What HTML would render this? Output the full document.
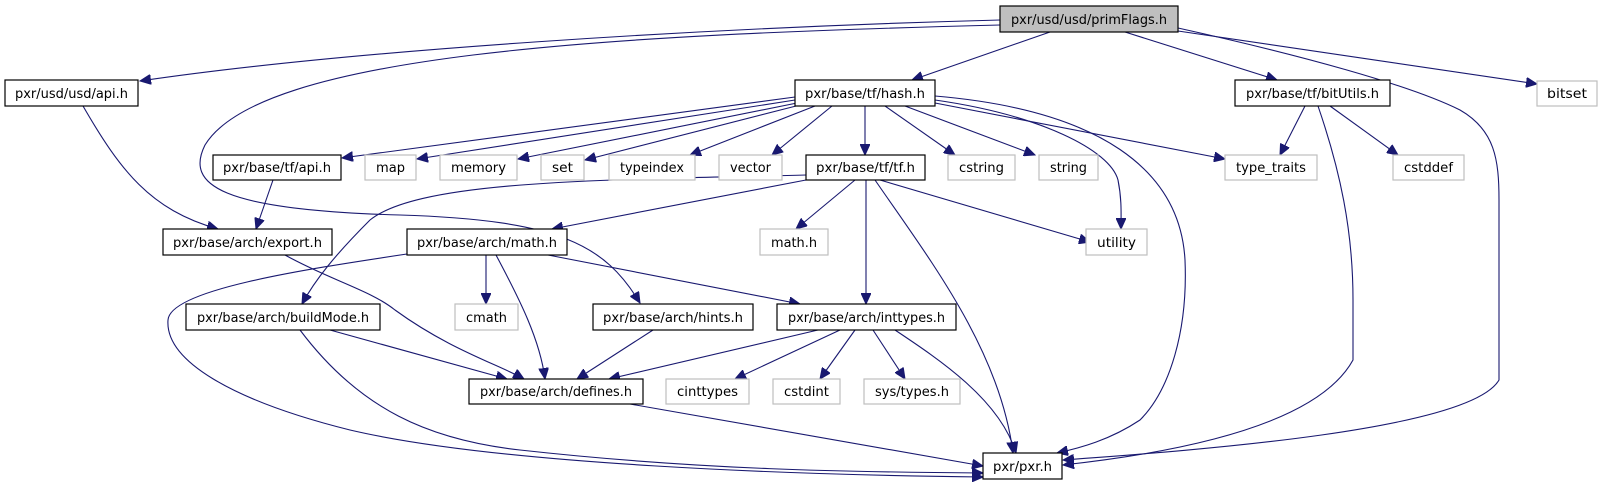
<!DOCTYPE html>
<html><head><meta charset="utf-8"><style>
html,body{margin:0;padding:0;background:#fff;}
svg{display:block;}
text{font-family:"DejaVu Sans","Liberation Sans",sans-serif;font-size:13px;fill:#000;}
.b{fill:#fff;stroke:#000;stroke-width:1.2;}
.g{fill:#fff;stroke:#bfbfbf;stroke-width:1.2;}
.e{fill:none;stroke:#191970;stroke-width:1.1;}
</style></head><body>
<svg width="1601" height="485" viewBox="0 0 1601 485" xmlns="http://www.w3.org/2000/svg">
<defs>
<marker id="a" markerUnits="userSpaceOnUse" markerWidth="12" markerHeight="10" refX="11" refY="5" orient="auto">
<path d="M0,0 L11,5 L0,10 z" fill="#191970" stroke="#191970"/>
</marker>
</defs>
<g class="e" marker-end="url(#a)">
<path d="M1000,20 C700,28 350,50 140,81"/>
<path d="M1000,25 C600,35 260,55 205,145 C185,185 220,210 400,215 C560,220 605,245 640,303"/>
<path d="M1050,32 L912,80"/>
<path d="M1125,32 L1277,80"/>
<path d="M1178,28 C1300,55 1410,85 1460,110 C1495,130 1499,160 1499,200 L1499,380 C1470,430 1200,450 1063,460"/>
<path d="M1178,31 L1537,84"/>
<path d="M795,97 L342,158"/>
<path d="M795,100 L417,159"/>
<path d="M797,103 L518,159"/>
<path d="M800,105 L585,160"/>
<path d="M815,106 L690,155"/>
<path d="M832,106 L772,155"/>
<path d="M865,106 L865,155"/>
<path d="M885,106 L955,155"/>
<path d="M905,106 L1035,155"/>
<path d="M935,103 L1225,159"/>
<path d="M935,100 C1040,115 1110,150 1118,180 C1122,200 1121,215 1121,229"/>
<path d="M935,96 C1100,110 1180,170 1185,260 C1188,330 1170,390 1140,420 C1110,440 1080,448 1057,453"/>
<path d="M1305,106 L1280,155"/>
<path d="M1330,106 L1398,155"/>
<path d="M1318,106 C1340,170 1353,230 1353,300 L1353,360 C1320,420 1200,450 1063,465"/>
<path d="M273,180 L256,229"/>
<path d="M83,106 C120,170 150,210 218,229"/>
<path d="M806,180 L552,229"/>
<path d="M806,175 C600,180 420,180 370,220 C335,255 315,280 302,304"/>
<path d="M855,180 L796,229"/>
<path d="M866,180 L866,304"/>
<path d="M880,180 L1090,242"/>
<path d="M875,180 C930,260 1000,350 1013,453"/>
<path d="M285,255 C330,280 370,290 395,310 C450,350 500,365 524,379"/>
<path d="M407,254 C300,270 170,290 168,320 C165,360 230,400 350,430 C500,465 800,475 983,477"/>
<path d="M486,255 L486,304"/>
<path d="M496,255 C520,300 540,340 545,379"/>
<path d="M548,255 L800,304"/>
<path d="M330,330 L507,379"/>
<path d="M300,330 C360,410 430,440 520,450 C700,470 850,472 983,473"/>
<path d="M653,330 L577,379"/>
<path d="M818,330 L609,379"/>
<path d="M840,330 L735,379"/>
<path d="M855,330 L820,379"/>
<path d="M873,330 L905,379"/>
<path d="M895,330 C940,360 1000,400 1016,453"/>
<path d="M630,404 L983,466"/>
</g>
<g>
<rect x="1000" y="6" width="178" height="26" fill="#bfbfbf" stroke="#000" stroke-width="1.2"/>
<text x="1089" y="24" text-anchor="middle" textLength="156" lengthAdjust="spacingAndGlyphs">pxr/usd/usd/primFlags.h</text>

<rect class="b" x="5" y="80" width="133" height="26"/><text x="71.5" y="98" text-anchor="middle" textLength="113" lengthAdjust="spacingAndGlyphs">pxr/usd/usd/api.h</text>
<rect class="b" x="795" y="80" width="140" height="26"/><text x="865" y="98" text-anchor="middle" textLength="120" lengthAdjust="spacingAndGlyphs">pxr/base/tf/hash.h</text>
<rect class="b" x="1235" y="80" width="155" height="26"/><text x="1312.5" y="98" text-anchor="middle" textLength="133" lengthAdjust="spacingAndGlyphs">pxr/base/tf/bitUtils.h</text>
<rect class="g" x="1537" y="81" width="60" height="25"/><text x="1567" y="98" text-anchor="middle" textLength="40" lengthAdjust="spacingAndGlyphs">bitset</text>

<rect class="b" x="213" y="155" width="128" height="25"/><text x="277" y="172" text-anchor="middle" textLength="108" lengthAdjust="spacingAndGlyphs">pxr/base/tf/api.h</text>
<rect class="g" x="365" y="155" width="51" height="25"/><text x="390.5" y="172" text-anchor="middle" textLength="29" lengthAdjust="spacingAndGlyphs">map</text>
<rect class="g" x="440" y="155" width="77" height="25"/><text x="478.5" y="172" text-anchor="middle" textLength="55" lengthAdjust="spacingAndGlyphs">memory</text>
<rect class="g" x="541" y="155" width="43" height="25"/><text x="562.5" y="172" text-anchor="middle" textLength="21" lengthAdjust="spacingAndGlyphs">set</text>
<rect class="g" x="609" y="155" width="86" height="25"/><text x="652" y="172" text-anchor="middle" textLength="64" lengthAdjust="spacingAndGlyphs">typeindex</text>
<rect class="g" x="719" y="155" width="63" height="25"/><text x="750.5" y="172" text-anchor="middle" textLength="41" lengthAdjust="spacingAndGlyphs">vector</text>
<rect class="b" x="806" y="155" width="119" height="25"/><text x="865.5" y="172" text-anchor="middle" textLength="99" lengthAdjust="spacingAndGlyphs">pxr/base/tf/tf.h</text>
<rect class="g" x="948" y="155" width="67" height="25"/><text x="981.5" y="172" text-anchor="middle" textLength="45" lengthAdjust="spacingAndGlyphs">cstring</text>
<rect class="g" x="1039" y="155" width="59" height="25"/><text x="1068.5" y="172" text-anchor="middle" textLength="37" lengthAdjust="spacingAndGlyphs">string</text>
<rect class="g" x="1225" y="155" width="92" height="25"/><text x="1271" y="172" text-anchor="middle" textLength="70" lengthAdjust="spacingAndGlyphs">type_traits</text>
<rect class="g" x="1393" y="155" width="71" height="25"/><text x="1428.5" y="172" text-anchor="middle" textLength="49" lengthAdjust="spacingAndGlyphs">cstddef</text>

<rect class="b" x="163" y="229" width="169" height="26"/><text x="247.5" y="247" text-anchor="middle" textLength="149" lengthAdjust="spacingAndGlyphs">pxr/base/arch/export.h</text>
<rect class="b" x="407" y="229" width="160" height="26"/><text x="487" y="247" text-anchor="middle" textLength="140" lengthAdjust="spacingAndGlyphs">pxr/base/arch/math.h</text>
<rect class="g" x="760" y="229" width="68" height="26"/><text x="794" y="247" text-anchor="middle" textLength="46" lengthAdjust="spacingAndGlyphs">math.h</text>
<rect class="g" x="1086" y="229" width="61" height="26"/><text x="1116.5" y="247" text-anchor="middle" textLength="39" lengthAdjust="spacingAndGlyphs">utility</text>

<rect class="b" x="186" y="304" width="194" height="26"/><text x="283" y="322" text-anchor="middle" textLength="172" lengthAdjust="spacingAndGlyphs">pxr/base/arch/buildMode.h</text>
<rect class="g" x="455" y="304" width="63" height="26"/><text x="486.5" y="322" text-anchor="middle" textLength="41" lengthAdjust="spacingAndGlyphs">cmath</text>
<rect class="b" x="593" y="304" width="160" height="26"/><text x="673" y="322" text-anchor="middle" textLength="140" lengthAdjust="spacingAndGlyphs">pxr/base/arch/hints.h</text>
<rect class="b" x="777" y="304" width="179" height="26"/><text x="866.5" y="322" text-anchor="middle" textLength="157" lengthAdjust="spacingAndGlyphs">pxr/base/arch/inttypes.h</text>

<rect class="b" x="469" y="379" width="174" height="25"/><text x="556" y="396" text-anchor="middle" textLength="152" lengthAdjust="spacingAndGlyphs">pxr/base/arch/defines.h</text>
<rect class="g" x="666" y="379" width="83" height="25"/><text x="707.5" y="396" text-anchor="middle" textLength="61" lengthAdjust="spacingAndGlyphs">cinttypes</text>
<rect class="g" x="773" y="379" width="67" height="25"/><text x="806.5" y="396" text-anchor="middle" textLength="45" lengthAdjust="spacingAndGlyphs">cstdint</text>
<rect class="g" x="864" y="379" width="96" height="25"/><text x="912" y="396" text-anchor="middle" textLength="74" lengthAdjust="spacingAndGlyphs">sys/types.h</text>

<rect class="b" x="983" y="453" width="79" height="26"/><text x="1022.5" y="471" text-anchor="middle" textLength="59" lengthAdjust="spacingAndGlyphs">pxr/pxr.h</text>
</g>
</svg>
</body></html>
